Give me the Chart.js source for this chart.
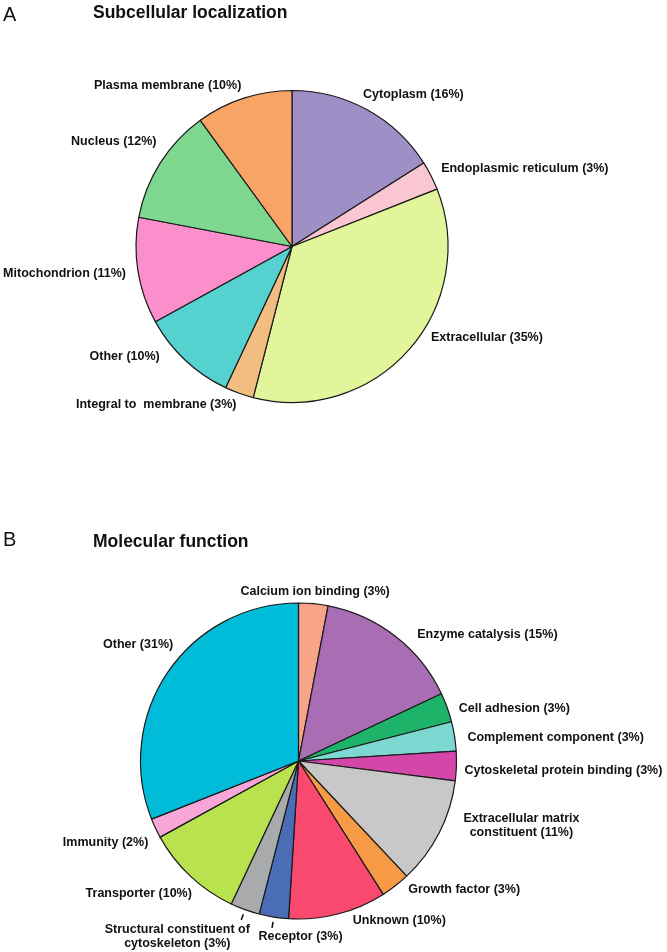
<!DOCTYPE html>
<html>
<head>
<meta charset="utf-8">
<script src="https://cdn.jsdelivr.net/npm/chart.js@4.4.1/dist/chart.umd.min.js"></script>
<style>
  html, body { margin: 0; padding: 0; background: #fff; }
  #page { position: relative; width: 667px; height: 952px; overflow: hidden;
          font-family: "Liberation Sans", Arial, Helvetica, sans-serif; color: #111; }
  canvas { position: absolute; left: 0; }
  #chartA { top: 0; }
  #chartB { top: 480px; }
  .panel { position: absolute; left: 3px; font-size: 20px; line-height: 1; font-weight: normal; }
  .title { position: absolute; left: 93px; font-size: 17.5px; line-height: 1; font-weight: bold; }
</style>
</head>
<body>
<div id="page">
  <canvas id="chartA" width="667" height="480"></canvas>
  <canvas id="chartB" width="667" height="472"></canvas>
  <div class="panel" style="top:4px">A</div>
  <div class="title" style="top:4px">Subcellular localization</div>
  <div class="panel" style="top:529px">B</div>
  <div class="title" style="top:533px">Molecular function</div>
</div>
<script>
// Panel A - subcellular localization, clockwise from 12 o'clock
const locNames = ['Cytoplasm', 'Endoplasmic reticulum', 'Extracellular', 'Integral to  membrane',
    'Other', 'Mitochondrion', 'Nucleus', 'Plasma membrane'];
const locPercent = [16, 3, 35, 3, 10, 11, 12, 10];
const locColors = ['#9e8fc6', '#f9c6d1', '#e3f59b', '#f1bd80', '#55d2cf', '#fa8fcb', '#7ed78e', '#f8a466'];

// Panel B - molecular function, clockwise from 12 o'clock
const funcNames = ['Calcium ion binding', 'Enzyme catalysis', 'Cell adhesion', 'Complement component',
    'Cytoskeletal protein binding', 'Extracellular matrix\nconstituent', 'Growth factor', 'Unknown',
    'Receptor', 'Structural constituent of\ncytoskeleton', 'Transporter', 'Immunity', 'Other'];
const funcPercent = [3, 15, 3, 3, 3, 11, 3, 10, 3, 3, 10, 2, 31];
const funcColors = ['#f8a488', '#a86db2', '#1db46a', '#7dd8d1', '#d447a8', '#c8c8c8', '#f79a45',
    '#f9496e', '#4a6db5', '#a9aaac', '#b8e24e', '#f8a6d8', '#00bcd8'];

// label placement relative to the slice's outer mid point: [align, dx, dy, leader tick]
const locLabelPos = [
    ['left', -8, -8], ['left', 3, -3], ['left', 16, -17], ['right', 0, 4],
    ['right', -20, -10], ['right', -4, 1], ['right', 3, -17], ['right', 0, -5]
];
const funcLabelPos = [
    ['center', 1, -4], ['left', 17, 5], ['left', 4, 4], ['left', 5, 3],
    ['left', 0, 4], ['center', 75, -11], ['left', 8, -3], ['left', 13, -1],
    ['center', 28, 12, true], ['center', -65, 19, true], ['right', 7, 12], ['right', 0, 11],
    ['right', 12, -23]
];

/**
 * Draw the outside slice labels (and small leader ticks)
 */
const sliceLabels = {
    id: 'sliceLabels',
    afterDatasetsDraw(chart, args, opts) {
        const ctx = chart.ctx;
        const meta = chart.getDatasetMeta(0);
        const values = chart.data.datasets[0].data;
        ctx.save();
        ctx.font = 'bold 12.5px "Liberation Sans", Arial, sans-serif';
        ctx.fillStyle = '#111';
        ctx.strokeStyle = '#111';
        ctx.textBaseline = 'middle';
        meta.data.forEach(function(arc, i) {
            const p = arc.getProps(['x', 'y', 'startAngle', 'endAngle', 'outerRadius'], true);
            const mid = (p.startAngle + p.endAngle) / 2;
            const cos = Math.cos(mid), sin = Math.sin(mid);
            const ax = p.x + cos * (p.outerRadius + 8);
            const ay = p.y + sin * (p.outerRadius + 8);
            const pos = opts.pos[i];

            if (pos[3]) {
                ctx.lineWidth = 1.6;
                ctx.beginPath();
                ctx.moveTo(p.x + cos * (p.outerRadius + 5), p.y + sin * (p.outerRadius + 5));
                ctx.lineTo(p.x + cos * (p.outerRadius + 11), p.y + sin * (p.outerRadius + 11));
                ctx.stroke();
            }

            const lines = (chart.data.labels[i] + ' (' + values[i] + '%)').split('\n');
            const lh = 14;
            const y0 = ay + pos[2] - (lines.length - 1) * lh / 2;
            ctx.textAlign = pos[0];
            lines.forEach(function(line, k) {
                ctx.fillText(line, ax + pos[1], y0 + k * lh);
            });
        });
        ctx.restore();
    }
};

function makePie(canvasId, labels, values, colors, radius, padding, labelPos) {
    return new Chart(document.getElementById(canvasId), {
        type: 'pie',
        data: {
            labels: labels,
            datasets: [{
                data: values,
                backgroundColor: colors,
                borderColor: '#1a1a1a',
                borderWidth: 1.2
            }]
        },
        options: {
            responsive: false,
            animation: false,
            radius: radius,
            layout: { padding: padding },
            plugins: {
                legend: { display: false },
                tooltip: { enabled: false },
                sliceLabels: { pos: labelPos }
            }
        },
        plugins: [sliceLabels]
    });
}

makePie('chartA', locNames, locPercent, locColors, 156,
    { left: 0, right: 83, top: 13, bottom: 0 }, locLabelPos);
makePie('chartB', funcNames, funcPercent, funcColors, 158,
    { left: 0, right: 70, top: 90, bottom: 0 }, funcLabelPos);
</script>
</body>
</html>
